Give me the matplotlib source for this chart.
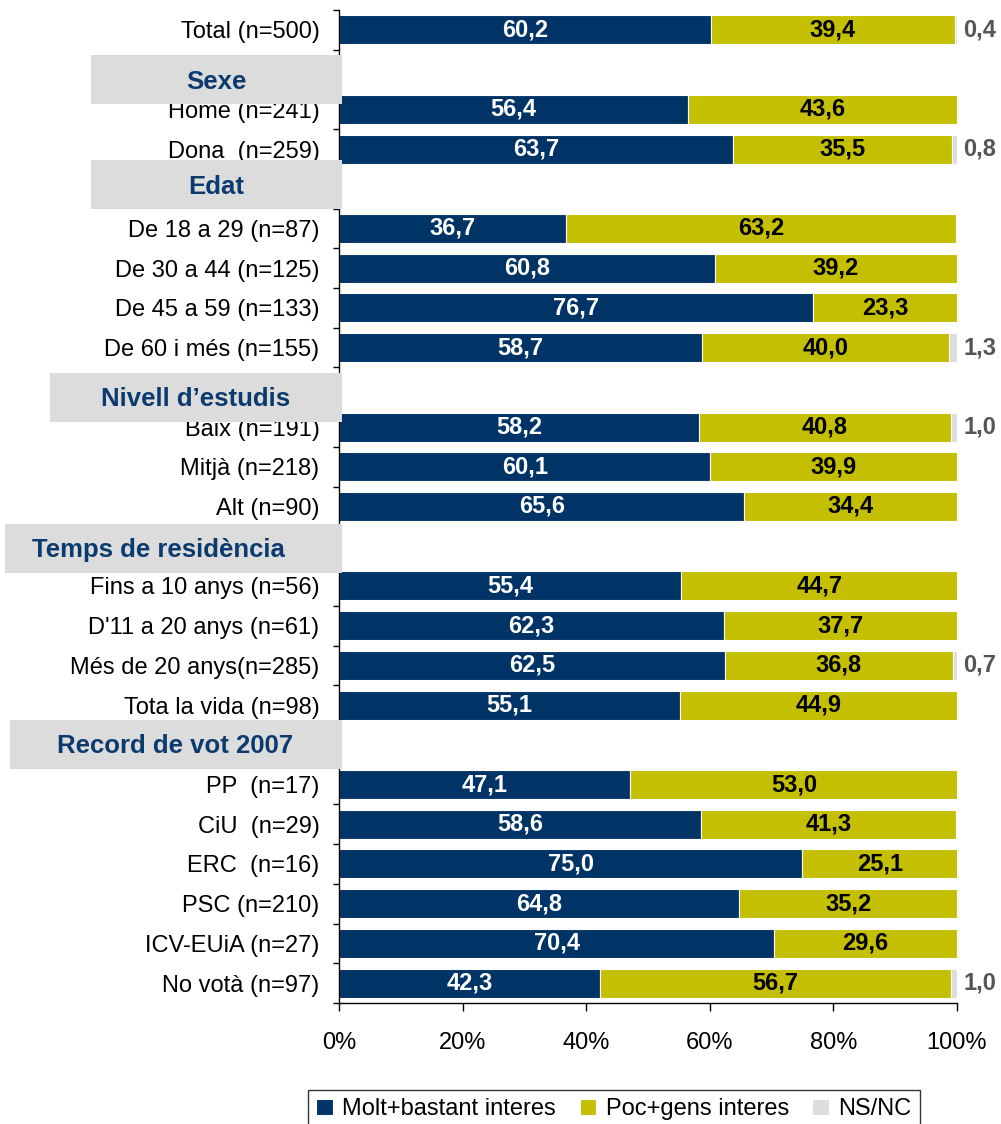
import matplotlib
matplotlib.use("Agg")
import matplotlib.pyplot as plt
from matplotlib.patches import Rectangle
from matplotlib.ticker import FixedLocator, PercentFormatter

plt.rcParams["font.family"] = ["Liberation Sans", "DejaVu Sans"]

# ------------------------------------------------------------
# Data
# ------------------------------------------------------------
GROUPS = ["Sexe", "Edat", "Nivell d\u2019estudis", "Temps de residència", "Record de vot 2007"]
GROUP_SIZES = [2, 4, 3, 4, 6]

labels = [
    "Total (n=500)",
    "Home (n=241)", "Dona  (n=259)",
    "De 18 a 29 (n=87)", "De 30 a 44 (n=125)", "De 45 a 59 (n=133)", "De 60 i més (n=155)",
    "Baix (n=191)", "Mitjà (n=218)", "Alt (n=90)",
    "Fins a 10 anys (n=56)", "D'11 a 20 anys (n=61)", "Més de 20 anys(n=285)", "Tota la vida (n=98)",
    "PP  (n=17)", "CiU  (n=29)", "ERC  (n=16)", "PSC (n=210)", "ICV-EUiA (n=27)", "No votà (n=97)",
]
molt = [60.2, 56.4, 63.7, 36.7, 60.8, 76.7, 58.7, 58.2, 60.1, 65.6,
        55.4, 62.3, 62.5, 55.1, 47.1, 58.6, 75.0, 64.8, 70.4, 42.3]
poc = [39.4, 43.6, 35.5, 63.2, 39.2, 23.3, 40.0, 40.8, 39.9, 34.4,
       44.7, 37.7, 36.8, 44.9, 53.0, 41.3, 25.1, 35.2, 29.6, 56.7]
nsnc = [0.4, 0.0, 0.8, 0.0, 0.0, 0.0, 1.3, 1.0, 0.0, 0.0,
        0.0, 0.0, 0.7, 0.0, 0.0, 0.0, 0.0, 0.0, 0.0, 1.0]

SERIES = ["Molt+bastant interes", "Poc+gens interes", "NS/NC"]
COLORS = ["#003366", "#C4BF00", "#DDDDDD"]
TEXT_COLORS = ["white", "black", "#555555"]

# header box styling: left edge (figure px) and vertical nudge (slot units)
HEADER_LEFT_PX = [91, 91, 50, 5, 10]
HEADER_NUDGE = [0.25, -0.1, 0.25, 0.05, -0.02]
HEADER_TEXT_X_PX = [216, 216, 196, 158, 175]

# ------------------------------------------------------------
# Slot layout: Total, then a header slot before each group
# ------------------------------------------------------------
row_slots = [0]
header_slots = []
pos = 1
for size in GROUP_SIZES:
    header_slots.append(pos)
    row_slots.extend(range(pos + 1, pos + 1 + size))
    pos += size + 1
n_slots = pos

W, H = 1001, 1124
fig = plt.figure(figsize=(W / 100, H / 100), dpi=100)
ax = fig.add_axes([339 / W, 1 - 1003 / H, 618 / W, 993 / H])

bar_h = 0.73
lefts = [0.0] * len(labels)
for vals, color, tcolor, name in zip([molt, poc, nsnc], COLORS, TEXT_COLORS, SERIES):
    ax.barh(row_slots, vals, left=lefts, height=bar_h, color=color,
            edgecolor="white", linewidth=0.8, label=name, zorder=2)
    for y, l, v in zip(row_slots, lefts, vals):
        if v <= 0:
            continue
        txt = f"{v:.1f}".replace(".", ",")
        if name == "NS/NC":
            # small NS/NC shares are labelled just outside the 100% edge
            ax.annotate(txt, xy=(100, y), xytext=(4.5, 0), textcoords="offset points",
                        ha="left", va="center", fontsize=17, fontweight="bold",
                        color=tcolor, annotation_clip=False)
        else:
            ax.text(l + v / 2, y, txt, ha="center", va="center", fontsize=17,
                    fontweight="bold", color=tcolor, zorder=3)
    lefts = [a + b for a, b in zip(lefts, vals)]

ax.set_xlim(0, 100)
ax.set_ylim(n_slots - 0.5, -0.5)

ax.set_yticks(row_slots)
ax.set_yticklabels(labels, fontsize=17)
ax.yaxis.set_minor_locator(FixedLocator([s - 0.5 for s in range(n_slots + 1)]))
ax.tick_params(axis="y", which="major", length=0, pad=14)
ax.tick_params(axis="y", which="minor", length=4, width=1, direction="out")

ax.set_xticks(range(0, 101, 20))
ax.xaxis.set_major_formatter(PercentFormatter(decimals=0))
ax.tick_params(axis="x", which="major", length=6, width=1, direction="out",
               pad=15, labelsize=17)

for side in ["top", "right"]:
    ax.spines[side].set_visible(False)
for side in ["left", "bottom"]:
    ax.spines[side].set_linewidth(1)

# ------------------------------------------------------------
# Grey group header boxes over the label area
# ------------------------------------------------------------
slot_px = 993 / n_slots
for name, slot, left_px, nudge, tx in zip(GROUPS, header_slots, HEADER_LEFT_PX,
                                          HEADER_NUDGE, HEADER_TEXT_X_PX):
    cy = 10 + (slot + 0.5 + nudge) * slot_px
    box_h = 49
    rect = Rectangle((left_px / W, 1 - (cy + box_h / 2) / H), (342 - left_px) / W, box_h / H,
                     transform=fig.transFigure, facecolor="#DCDCDC", edgecolor="none",
                     zorder=5)
    fig.add_artist(rect)
    fig.text(tx / W, 1 - (cy + 2) / H, name, ha="center", va="center", fontsize=18.5,
             fontweight="bold", color="#0B3B6E", zorder=6)

leg = fig.legend(loc="upper left", bbox_to_anchor=(308 / W, 1 - 1090 / H), ncol=3,
                 fontsize=17, frameon=True, fancybox=False, handlelength=0.7,
                 handleheight=0.7, handletextpad=0.4, columnspacing=1.0,
                 borderpad=0.35, borderaxespad=0)
leg.get_frame().set_edgecolor("black")
leg.get_frame().set_linewidth(1)

fig.savefig("out.png", dpi=100)
